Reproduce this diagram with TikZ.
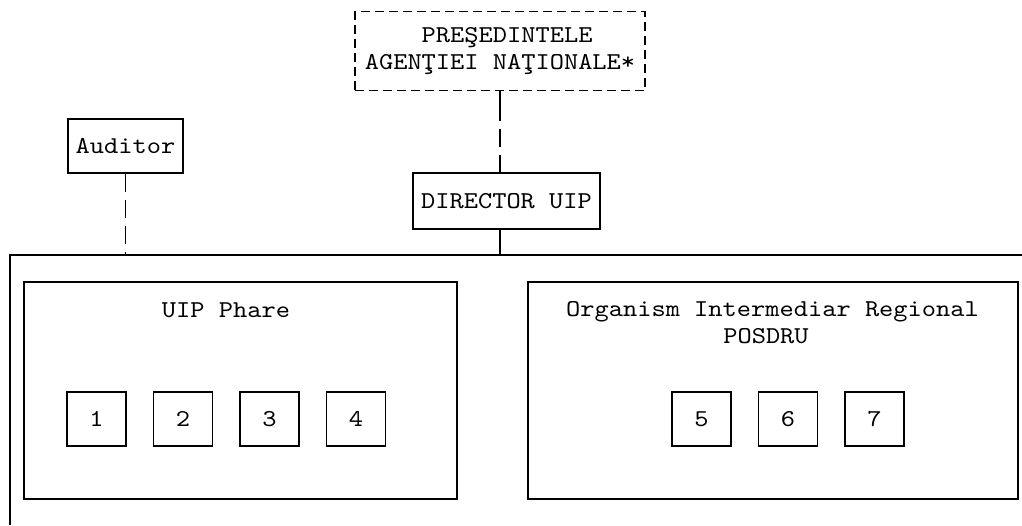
\documentclass[tikz,border=0pt]{standalone}
\usepackage{fontspec}
\newfontfamily\courfont{lmmono10-regular}[Extension=.otf, FakeStretch=1.12]
\begin{document}
\begin{tikzpicture}[x=1pt,y=-1pt,
  every node/.style={font=\courfont\fontsize{24.2}{27}\selectfont, inner sep=0pt},
  box/.style={draw, line width=1.3pt},
  small/.style={box, minimum width=59pt, minimum height=54pt},
  dashbox/.style={draw, line width=1.3pt, dash pattern=on 9pt off 5pt},
  dashline/.style={line width=1.3pt, dash pattern=on 18pt off 8pt},
  solidline/.style={line width=1.3pt}]
\useasboundingbox (0,0) rectangle (1022,525);
% top
\node[dashbox, minimum width=290pt, minimum height=79pt, align=left] (pres) at (500,51)
  {\phantom{xxxx}PREŞEDINTELE\\AGENŢIEI NAŢIONALE*};
\node[box, minimum width=115pt, minimum height=54pt] (aud) at (125.5,146) {Auditor};
\node[box, minimum width=187pt, minimum height=56pt] (dir) at (506.5,201) {DIRECTOR UIP};
% outer frame
\coordinate (fl) at (10,525);
\coordinate (ftl) at (10,255);
\coordinate (ftr) at (1024,255);
\draw[solidline] (fl) -- (ftl) -- (ftr);
\coordinate (audj) at (125.5,255);
\coordinate (dirj) at (500,255);
\draw[dashline] (aud.south) -- (audj);
\draw[solidline] (pres.south) -- ++(0,12) coordinate (pt);
\draw[dashline] (pt) -- (pt |- dir.north);
\draw[solidline] (dir.south -| dirj) -- (dirj);
% inner boxes
\node[box, minimum width=433pt, minimum height=217pt] (phare) at (240.5,390.5) {};
\node (pharet) at (226,310) {UIP Phare};
\node[box, minimum width=490pt, minimum height=217pt] (oir) at (773,390.5) {};
\node[align=center] (oirt) at (772.5,323) {Organism Intermediar Regional\\\hspace*{-13pt}POSDRU};
% small boxes
\node[small] (b1) at (96.5,419) {1};
\node[small] (b2) at (183,419) {2};
\node[small] (b3) at (269.5,419) {3};
\node[small] (b4) at (356,419) {4};
\node[small] (b5) at (701.5,419) {5};
\node[small] (b6) at (788,419) {6};
\node[small] (b7) at (874.5,419) {7};
\end{tikzpicture}
\end{document}
